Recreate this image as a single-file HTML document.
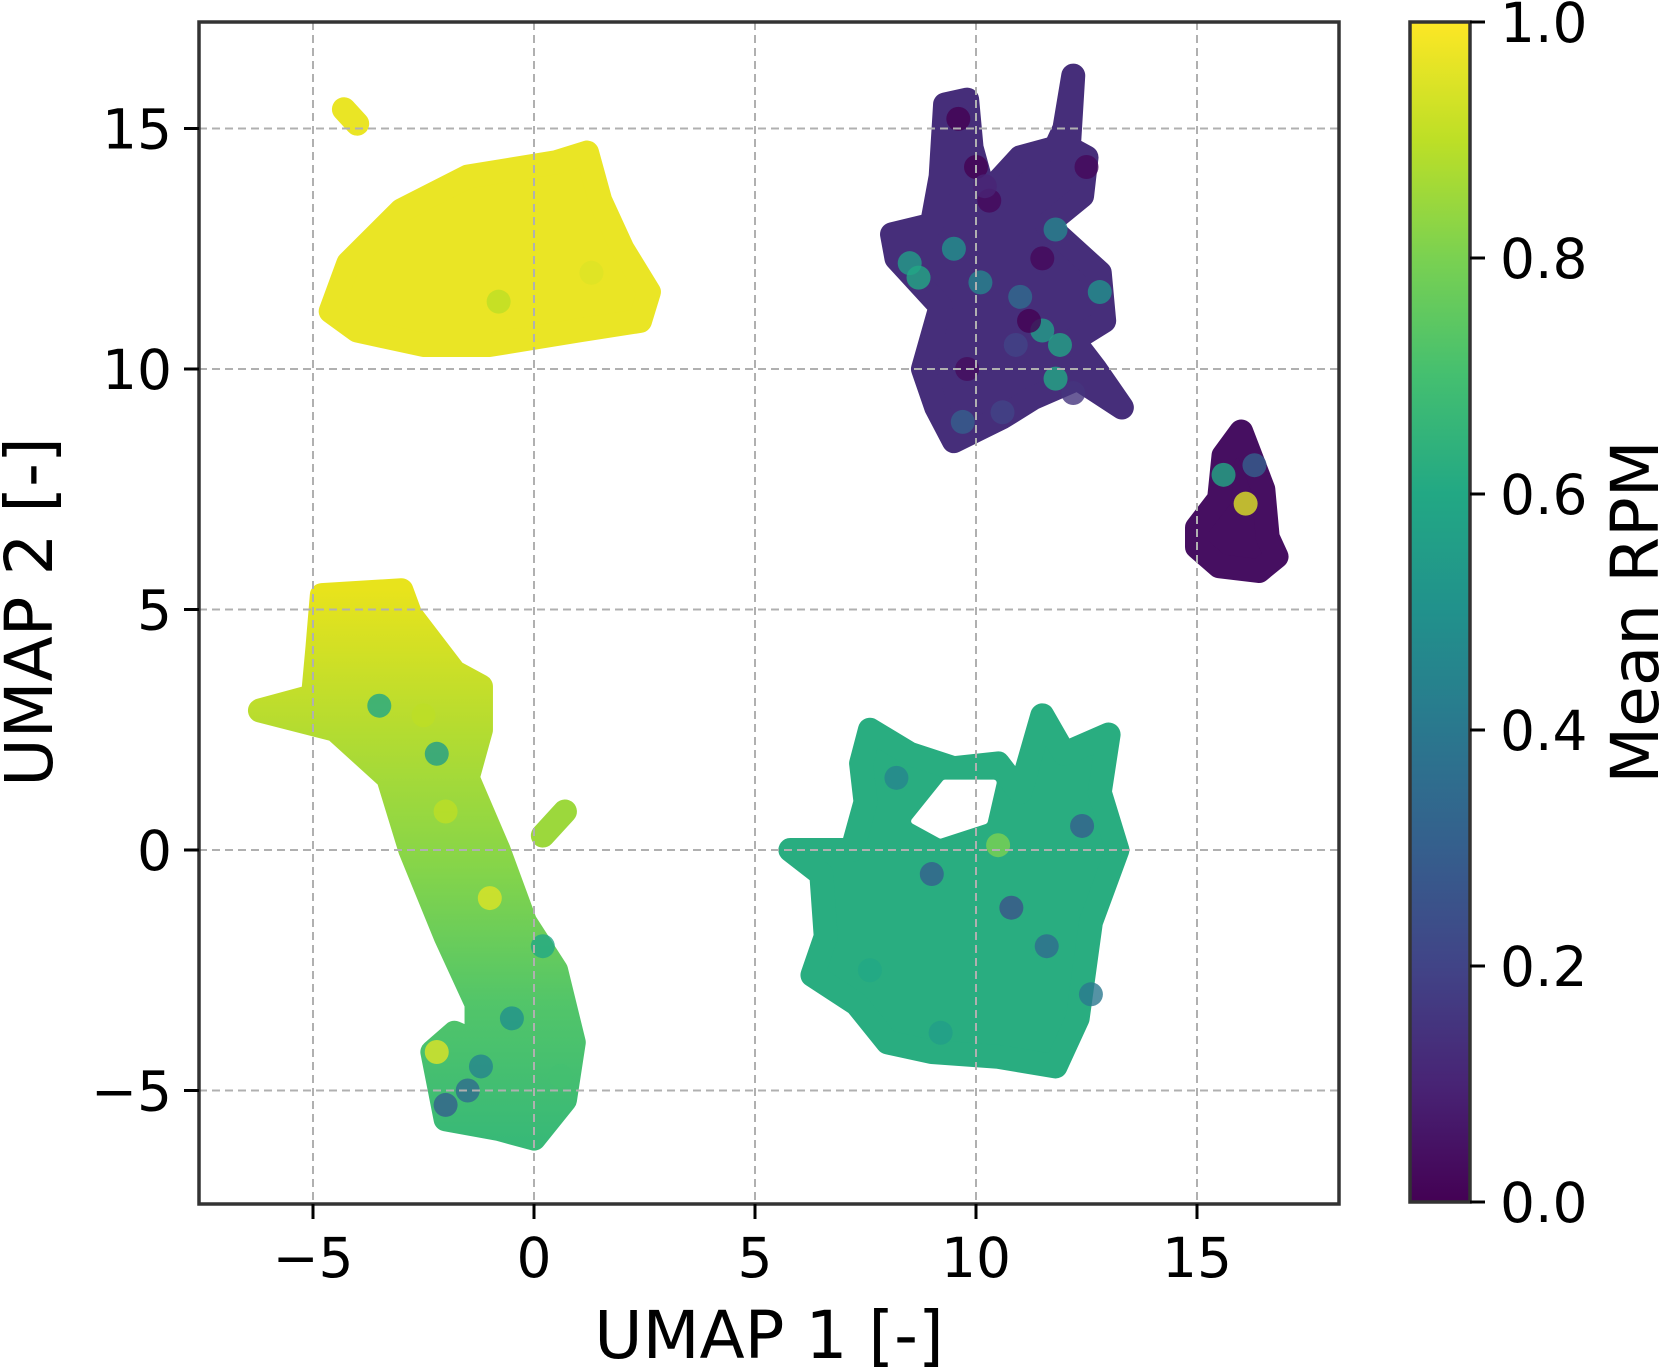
<!DOCTYPE html>
<html><head><meta charset="utf-8">
<style>
html,body{margin:0;padding:0;background:#fff;}
svg{display:block;font-family:"DejaVu Sans","Liberation Sans",sans-serif;}
</style></head>
<body>
<svg id="chart" width="1660" height="1370" viewBox="0 0 1660 1370">
<defs>
<linearGradient id="cbar" x1="0" y1="1" x2="0" y2="0">
<stop offset="0" stop-color="#440154"/><stop offset="0.1" stop-color="#482475"/>
<stop offset="0.2" stop-color="#414487"/><stop offset="0.3" stop-color="#355f8d"/>
<stop offset="0.4" stop-color="#2a788e"/><stop offset="0.5" stop-color="#21918c"/>
<stop offset="0.6" stop-color="#22a884"/><stop offset="0.7" stop-color="#44bf70"/>
<stop offset="0.8" stop-color="#7ad151"/><stop offset="0.9" stop-color="#bddf26"/>
<stop offset="1" stop-color="#fde725"/>
</linearGradient>
<linearGradient id="leftGrad" gradientUnits="userSpaceOnUse" x1="0" y1="590" x2="0" y2="1140">
<stop offset="0" stop-color="#e8e31c"/><stop offset="0.25" stop-color="#b5dc30"/>
<stop offset="0.5" stop-color="#86d549"/><stop offset="0.75" stop-color="#52c569"/>
<stop offset="1" stop-color="#38b977"/>
</linearGradient>
<clipPath id="plotclip"><rect x="199" y="22" width="1140" height="1182"/></clipPath>
</defs>
<g id="marks" clip-path="url(#plotclip)"></g>
<g id="grid"></g>
<rect x="199" y="22" width="1140" height="1182" fill="none" stroke="#333" stroke-width="3.5"/>
<g id="xticks"></g>
<g id="yticks"></g>
<text x="769" y="1358" font-size="66" text-anchor="middle">UMAP 1 [-]</text>
<text transform="translate(52,612) rotate(-90)" font-size="66" text-anchor="middle">UMAP 2 [-]</text>
<rect x="1410" y="22" width="60" height="1180" fill="url(#cbar)" stroke="#333" stroke-width="3.5"/>
<g id="cticks"></g>
<text transform="translate(1658,612) rotate(-90)" font-size="66" text-anchor="middle">Mean RPM</text>
</svg>
<script>
const xTicks=[-5,0,5,10,15];
const yTicks=[-5,0,5,10,15];
const cTicks=[0.0,0.2,0.4,0.6,0.8,1.0];
const clusterNames=['yellow-top-left','yellow-small','left-elongated','left-fragment','green-bottom-right','purple-top-right','purple-small','teal-dot'];
const clusterValues=[0.97,0.97,0.85,0.85,0.62,0.13,0.04,0.5];
const clusterOutlines=[
[[-4.6,11.2],[-4.2,12.2],[-3,13.3],[-1.5,14],[0.5,14.3],[1.2,14.5],[1.5,13.5],[2,12.5],[2.6,11.6],[2.4,11],[1,10.8],[-1,10.5],[-2.5,10.5],[-4,10.8]],
[[-4.3,15.4],[-4.0,15.1]],
[[-4.8,5.3],[-3,5.4],[-2.8,4.9],[-1.8,3.7],[-1.2,3.4],[-1.2,2.5],[-1.5,1.5],[-0.8,0],[-0.2,-1.5],[0.5,-2.5],[0.9,-4],[0.7,-5.2],[0,-6],[-0.8,-5.8],[-2,-5.6],[-2.3,-4.2],[-1.8,-3.8],[-1.3,-4],[-1.3,-3.2],[-2,-1.8],[-2.8,0],[-3.3,1.5],[-4.5,2.5],[-6.2,2.9],[-5,3.2],[-4.9,4.2]],
[[0.2,0.3],[0.7,0.8]],
[[7.6,2.5],[8.5,2],[9.5,1.7],[10.5,1.8],[11,1.2],[11.5,2.8],[12,2],[13,2.4],[12.8,1.2],[13.2,0],[12.6,-1.5],[12.3,-3.5],[11.8,-4.5],[10.5,-4.3],[9,-4.2],[8,-4],[7.3,-3.2],[6.3,-2.6],[6.6,-1.8],[6.5,-0.5],[5.8,0],[7.2,0],[7.5,1],[7.4,1.8]],
[[9.3,15.5],[9.8,15.6],[9.9,14.6],[10.2,13.6],[11,14.4],[11.8,14.6],[12,15],[12.2,16.1],[12.1,14.6],[12.5,14.4],[12.4,13.6],[11.6,13],[12.8,12],[12.9,11],[12.2,10.6],[12.7,10],[13.3,9.2],[12.3,9.8],[11.3,9.4],[10.6,9],[9.5,8.5],[9.1,9.2],[8.8,10],[9.2,11.3],[8.2,12.3],[8.1,12.8],[9,13],[9.2,14]],
[[15,6.7],[15.5,7.3],[15.6,8.2],[16,8.7],[16.5,7.5],[16.6,6.5],[16.8,6.1],[16.4,5.8],[15.5,5.9],[15,6.3]],
[[15.5,15.1],[15.5,15.1]]
];
const holeOutline=[[8.6,0.6],[9.3,1.4],[10.4,1.4],[10.2,0.6],[9.2,0.3]];
const pointX=[9.5,10.1,8.5,8.7,11.5,11.9,12.2,10.3,9.8,10.6,10.0,11.8,12.5,9.6,11.0,12.8,15.6,16.1,16.3,8.2,9.0,10.8,11.6,12.4,7.6,9.2,10.5,12.6,-2.0,-1.5,-0.5,-1.0,-2.2,-3.5,-2.5,0.2,-1.2,-2.2,-2.0,0.6,1.3,-0.8,10.2,11.2,9.7,11.8,11.5,10.9];
const pointY=[12.5,11.8,12.2,11.9,10.8,10.5,9.5,13.5,10.0,9.1,14.2,12.9,14.2,15.2,11.5,11.6,7.8,7.2,8.0,1.5,-0.5,-1.2,-2.0,0.5,-2.5,-3.8,0.1,-3.0,-5.3,-5.0,-3.5,-1.0,2.0,3.0,2.8,-2.0,-4.5,-4.2,0.8,-4.7,12.0,11.4,13.8,11.0,8.9,9.8,12.3,10.5];
const pointV=[0.5,0.45,0.55,0.6,0.55,0.58,0.15,0.02,0.03,0.2,0.0,0.45,0.02,0.0,0.35,0.5,0.6,0.95,0.3,0.45,0.3,0.25,0.35,0.3,0.6,0.55,0.8,0.4,0.3,0.35,0.5,0.95,0.55,0.6,0.9,0.6,0.45,0.95,0.9,0.7,0.95,0.9,0.1,0.0,0.3,0.6,0.02,0.2];

const X=v=>534+44.2*v, Y=v=>850-48.1*v;
const vir=['#440154','#482475','#414487','#355f8d','#2a788e','#21918c','#22a884','#44bf70','#7ad151','#bddf26','#fde725'];
function hex(h){return [1,3,5].map(i=>parseInt(h.substr(i,2),16));}
function viridis(t){t=Math.max(0,Math.min(1,t));const f=t*10,i=Math.min(9,Math.floor(f)),r=f-i;const a=hex(vir[i]),b=hex(vir[i+1]);return 'rgb('+a.map((c,k)=>Math.round(c+(b[k]-c)*r)).join(',')+')';}
const NS='http://www.w3.org/2000/svg';
function mk(tag,attrs,parent){const e=document.createElementNS(NS,tag);for(const k in attrs)e.setAttribute(k,attrs[k]);parent.appendChild(e);return e;}
const marks=document.getElementById('marks');
clusterOutlines.forEach((pts,i)=>{
  const d=pts.map(p=>X(p[0])+','+Y(p[1])).join(' ');
  const col=clusterNames[i]==='left-elongated'?'url(#leftGrad)':viridis(clusterValues[i]);
  const p=mk('polygon',{points:d,fill:col,stroke:col,'stroke-width':24,'stroke-linejoin':'round'},marks);
  
  
});
const hole=mk('polygon',{points:holeOutline.map(p=>X(p[0])+','+Y(p[1])).join(' '),fill:'#fff',stroke:'#fff','stroke-width':6,'stroke-linejoin':'round'},marks);


pointX.forEach((x,i)=>{
  const c=mk('circle',{cx:X(x),cy:Y(pointY[i]),r:12,fill:viridis(pointV[i]),'fill-opacity':0.8},marks);
  
  
});
const grid=document.getElementById('grid'),xt=document.getElementById('xticks'),yt=document.getElementById('yticks'),ct=document.getElementById('cticks');
xTicks.forEach(v=>{
  const g=mk('line',{x1:X(v),x2:X(v),y1:22,y2:1204,stroke:'#b0b0b0','stroke-width':2,'stroke-dasharray':'8,5'},grid);
  
  
  mk('line',{x1:X(v),x2:X(v),y1:1204,y2:1219,stroke:'#000','stroke-width':3},xt);
  const t=mk('text',{x:X(v),y:1277,'font-size':55,'text-anchor':'middle'},xt);
  t.textContent=(v<0?'\u2212':'')+Math.abs(v);
  
  
});
yTicks.forEach(v=>{
  const g=mk('line',{x1:199,x2:1339,y1:Y(v),y2:Y(v),stroke:'#b0b0b0','stroke-width':2,'stroke-dasharray':'8,5'},grid);
  
  
  mk('line',{x1:184,x2:199,y1:Y(v),y2:Y(v),stroke:'#000','stroke-width':3},yt);
  const t=mk('text',{x:172,y:Y(v)+20,'font-size':55,'text-anchor':'end'},yt);
  t.textContent=(v<0?'\u2212':'')+Math.abs(v);
  
  
});
cTicks.forEach(v=>{
  const y=1202-1180*v;
  mk('line',{x1:1470,x2:1485,y1:y,y2:y,stroke:'#000','stroke-width':3},ct);
  const t=mk('text',{x:1500,y:y+20,'font-size':55},ct);
  t.textContent=v.toFixed(1);
  
  
});
</script>
</body></html>
